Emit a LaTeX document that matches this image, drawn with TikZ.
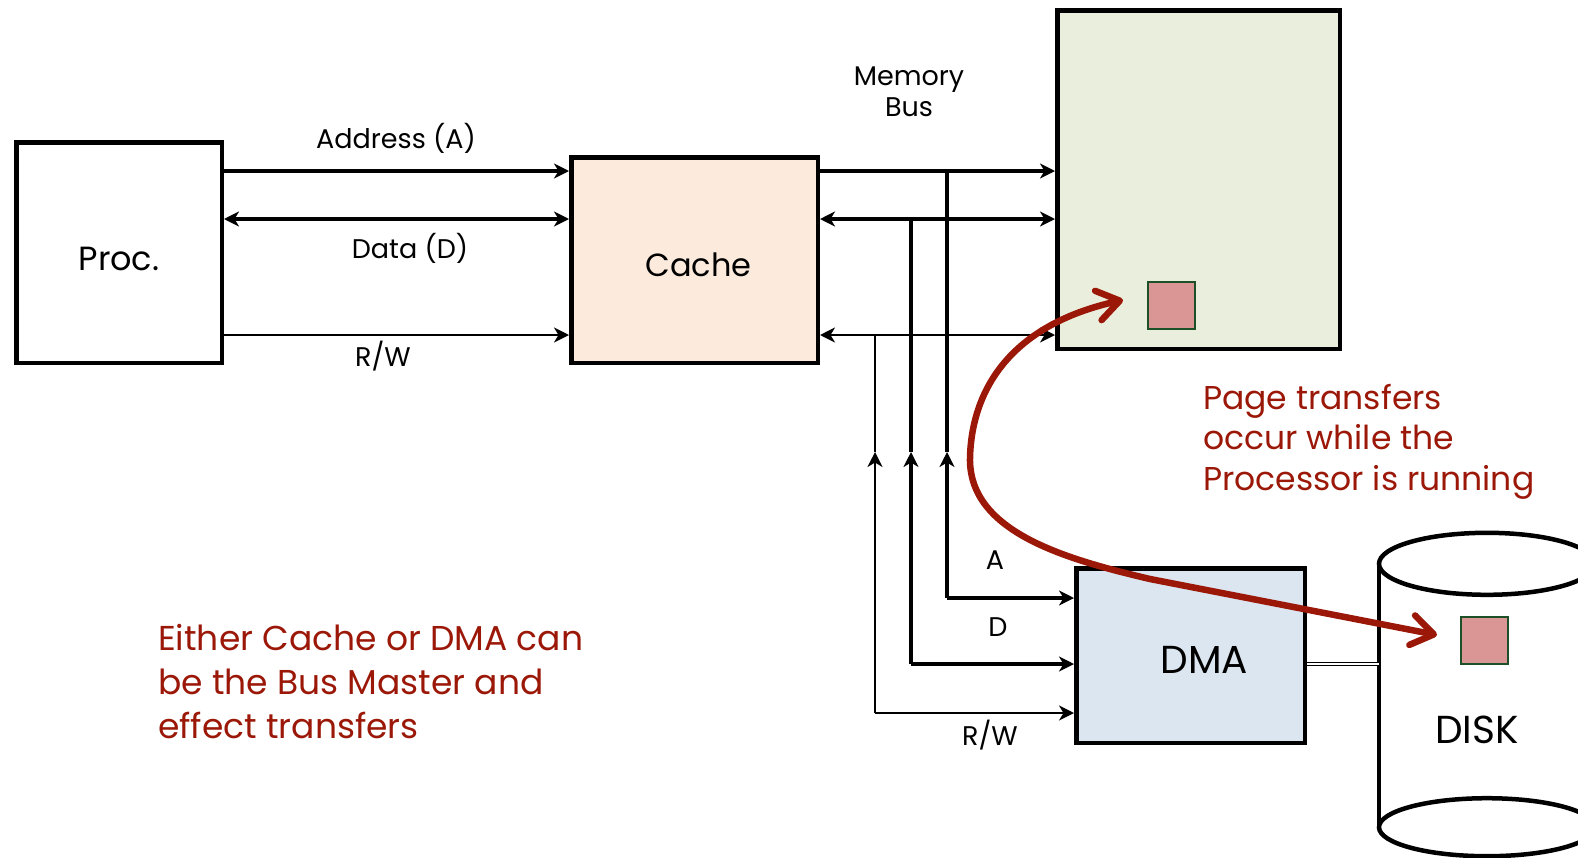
\documentclass[tikz,border=0pt]{standalone}
\usepackage{fontspec}
\setmainfont{Poppins}
\usetikzlibrary{arrows.meta}
\usepackage{xcolor}

\definecolor{pagered}{RGB}{155,24,8}
\definecolor{cachefill}{RGB}{252,235,221}
\definecolor{memfill}{RGB}{234,239,221}
\definecolor{dmafill}{RGB}{220,230,241}
\definecolor{pagefill}{RGB}{217,150,148}
\definecolor{pageedge}{RGB}{30,80,40}

\begin{document}
\begin{tikzpicture}[
    x=1pt, y=-1pt,
    >={Stealth[length=15pt,width=15pt,inset=4.5pt]},
    box/.style={draw=black, line width=4.5pt, inner sep=0pt},
    bus/.style={line width=4.2pt},
    ctrl/.style={line width=2pt},
    buslabel/.style={font=\fontsize{27}{31}\selectfont, inner sep=0pt},
    unitlabel/.style={font=\fontsize{#1}{40}\selectfont},
    page/.style={fill=pagefill, draw=pageedge, line width=2pt, minimum size=47pt, inner sep=0pt},
    note/.style={text=pagered, align=left, inner sep=0pt, anchor=north west},
    pagearrow/.style={draw=pagered, line width=6.5pt,
        {Straight Barb[length=22pt,width=30pt,round]}-{Straight Barb[length=22pt,width=30pt,round]}}
]
    \clip (0,0) rectangle (1578,857);

    % y of the three bus lines
    \coordinate (abus) at (0,171);
    \coordinate (dbus) at (0,219);
    \coordinate (rbus) at (0,335);

    % the units
    \node[box, minimum width=205.5, minimum height=220.5,
          label={[unitlabel=33.5, yshift=-6pt]center:Proc.}] (proc) at (119,252.5) {};
    \node[box, fill=cachefill, minimum width=246.5, minimum height=205.5,
          label={[unitlabel=32, xshift=4pt, yshift=-5pt]center:Cache}] (cache) at (694.5,260) {};
    \node[box, fill=memfill, minimum width=282.5, minimum height=338.5] (mem) at (1198.5,179.5) {};
    \node[box, fill=dmafill, minimum width=228.5, minimum height=174.5,
          label={[unitlabel=39, xshift=14pt, yshift=-4pt]center:DMA}] (dma) at (1190.5,655.5) {};

    % disk drawn as a can round an empty node
    \node[minimum width=216, minimum height=263, inner sep=0pt] (disk) at (1487,695.5) {};
    \draw[line width=4.5pt] (disk.north west) -- (disk.south west);
    \draw[line width=4.5pt] (disk.north east) -- (disk.south east);
    \draw[line width=4.5pt, fill=white] (disk.north) ellipse [x radius=108, y radius=31];
    \draw[line width=4.5pt] (disk.south) ellipse [x radius=108, y radius=29];
    \node[unitlabel=39] (disklabel) at (1477,730) {DISK};

    % pages
    \node[page] (mempage) at (1171.5,305.5) {};
    \node[page] (diskpage) at (1484.5,640.5) {};

    % processor - cache
    \draw[bus,->] (proc.east |- abus) -- (cache.west |- abus);
    \draw[bus,<->] (proc.east |- dbus) -- (cache.west |- dbus);
    \draw[ctrl,->] (proc.east |- rbus) -- (cache.west |- rbus);
    \node[buslabel] (alabel) at (396,138) {Address (A)};
    \node[buslabel] (dlabel) at (410,248) {Data (D)};
    \node[buslabel] (rlabel) at (383,356) {R/W};

    % memory bus
    \draw[bus,->] (cache.east |- abus) -- (mem.west |- abus);
    \draw[bus,<->] (cache.east |- dbus) -- (mem.west |- dbus);
    \draw[ctrl,<->] (cache.east |- rbus) -- (mem.west |- rbus);
    \node[buslabel, align=center] (memlabel) at (909,92) {Memory\\Bus};

    % taps down to the DMA
    \foreach \nm/\xv/\ybus/\yturn/\lw in {a/947/171/598/4.2, d/911/219/664/4.2, r/875/335/713/2} {
        \coordinate (\nm top) at (\xv,\ybus);
        \coordinate (\nm up) at (\xv,452);
        \coordinate (\nm turn) at (\xv,\yturn);
        \draw[line width=\lw pt] (\nm top) -- (\nm up);
        \draw[line width=\lw pt,->] (\nm turn) -- (\nm up);
        \draw[line width=\lw pt,->] (\nm turn) -- (dma.west |- \nm turn);
    }
    \node[buslabel] (atap) at (995,560) {A};
    \node[buslabel] (dtap) at (998,627) {D};
    \node[buslabel] (rtap) at (990,735) {R/W};

    % dma - disk link
    \coordinate (link) at (0,664);
    \draw[double, line width=1.3pt, double distance=2pt] (dma.east |- link) -- (disk.west |- link);

    % page transfer
    \coordinate (memtip) at (1123,300);
    \coordinate (disktip) at (1437,635);
    \draw[pagearrow] (memtip) .. controls (1010,325) and (972,390) .. (970,457)
        .. controls (968,530) and (1060,558) .. (1150,579) -- (disktip);

    % notes
    \node[note, font=\fontsize{33}{40.5}\selectfont] (pagenote) at (1203,384)
        {Page transfers\\occur while the\\Processor is running};
    \node[note, font=\fontsize{34.5}{44}\selectfont] (masternote) at (158,624)
        {Either Cache or DMA can\\be the Bus Master and\\effect transfers};
\end{tikzpicture}
\end{document}
